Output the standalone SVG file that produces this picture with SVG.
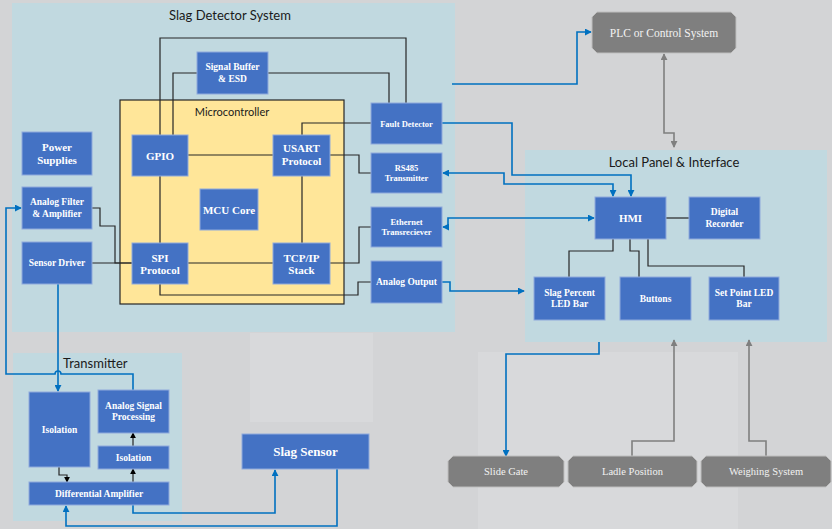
<svg xmlns="http://www.w3.org/2000/svg" width="832" height="529" viewBox="0 0 832 529">
<defs>
<style>
.bg{fill:#d3d4d6}
.faint{fill:#d8d9db}
.panel{fill:#c1d9e0}
.mcu{fill:#ffe699;stroke:#262626;stroke-width:1.2}
.node{fill:#4472c4;stroke:#8faadc;stroke-width:1}
.oct{fill:#7f7f7f;stroke:#bfbfbf;stroke-width:1}
.nt{font-family:"Liberation Serif","DejaVu Serif",serif;font-weight:bold;fill:#ffffff;text-anchor:middle;dominant-baseline:central;font-size:9.5px}
.nl{font-size:11px}
.ot{font-family:"Liberation Serif","DejaVu Serif",serif;fill:#f2f2f2;text-anchor:middle;dominant-baseline:central;font-size:10.5px}
.title{font-family:Lato,"Open Sans",sans-serif;fill:#1a1a1a;font-size:13px;dominant-baseline:central}
.blk{fill:none;stroke:#262626;stroke-width:1.2}
.blu{fill:none;stroke:#0070c0;stroke-width:1.6}
.gry{fill:none;stroke:#7f7f7f;stroke-width:1.6}
</style>
<marker id="ab" viewBox="0 0 8 8" refX="7" refY="4" markerWidth="7" markerHeight="7" markerUnits="userSpaceOnUse" orient="auto-start-reverse"><path d="M0,0 L8,4 L0,8 z" fill="#0070c0"/></marker>
<marker id="ak" viewBox="0 0 8 8" refX="7" refY="4" markerWidth="6" markerHeight="6" markerUnits="userSpaceOnUse" orient="auto-start-reverse"><path d="M0,0 L8,4 L0,8 z" fill="#000"/></marker>
<marker id="ag" viewBox="0 0 8 8" refX="7" refY="4" markerWidth="7" markerHeight="7" markerUnits="userSpaceOnUse" orient="auto-start-reverse"><path d="M0,0 L8,4 L0,8 z" fill="#7f7f7f"/></marker>
</defs>
<rect class="bg" x="0" y="0" width="832" height="529"/>
<rect class="faint" x="478" y="352" width="260" height="177"/>
<rect class="faint" x="250" y="333" width="123" height="89"/>

<g id="slag-detector-system">
<rect class="panel" x="12" y="3" width="443" height="329"/>
<text class="title" x="230" y="15" text-anchor="middle">Slag Detector System</text>
</g>
<g id="transmitter">
<rect class="panel" x="13" y="353" width="169" height="168"/>
<text class="title" x="63" y="363">Transmitter</text>
</g>
<g id="local-panel">
<rect class="panel" x="525" y="150" width="302" height="192"/>
<text class="title" x="674" y="162" text-anchor="middle">Local Panel &amp; Interface</text>
</g>
<g id="microcontroller">
<rect class="mcu" x="120" y="100" width="224" height="204"/>
<text class="title" x="232" y="111" text-anchor="middle" style="font-size:11px">Microcontroller</text>
</g>

<g id="connectors">
<path class="blk" d="M160,135 V38 H406 V103"/>
<path class="blk" d="M173,135 V73 H197"/>
<path class="blk" d="M268,73 H389 V103"/>
<path class="blk" d="M188,155 H273"/>
<path class="blk" d="M330,155 H359 V173 H371"/>
<path class="blk" d="M302,135 V123 H371"/>
<path class="blk" d="M160,176 V243"/>
<path class="blk" d="M302,176 V243"/>
<path class="blk" d="M188,263 H273"/>
<path class="blk" d="M330,263 H359 V227 H371"/>
<path class="blk" d="M160,284 V295 H358 V282 H371"/>
<path class="blk" d="M92,208 H100 V226 H115 V263 H132"/>
<path class="blk" d="M92,263 H132"/>
<path class="blk" d="M59,467 V475 H67 V482" marker-end="url(#ak)"/>
<path class="blk" d="M133,482 V469" marker-end="url(#ak)"/>
<path class="blk" d="M133,446 V433" marker-end="url(#ak)"/>
<path class="blk" d="M666,218 H689"/>
<path class="blk" d="M613,239 V251 H569 V277"/>
<path class="blk" d="M630,239 V251 H639 V277"/>
<path class="blk" d="M648,239 V266 H744 V277"/>
<path class="blu" d="M58,284 V391" marker-end="url(#ab)"/>
<path class="blu" d="M133,391 V374 H61 A3,3 0 0 0 55,374 H6 V208 H21" marker-end="url(#ab)"/>
<path class="blu" d="M133,505 V513 H275 V470" marker-end="url(#ab)"/>
<path class="blu" d="M337,469 V526 H66 V506" marker-end="url(#ab)"/>
<path class="blu" d="M452,84 H577 V32 H591" marker-end="url(#ab)"/>
<path class="blu" d="M442,123 H512 V175 H631 V196" marker-end="url(#ab)"/>
<path class="blu" d="M613,196 V184 H504 V173 H443" marker-start="url(#ab)" marker-end="url(#ab)"/>
<path class="blu" d="M594,218 H448 V227 H443" marker-start="url(#ab)" marker-end="url(#ab)"/>
<path class="blu" d="M442,282 H450 V291 H524" marker-end="url(#ab)"/>
<path class="blu" d="M599,342 V354 H506 V456" marker-end="url(#ab)"/>
<path class="gry" d="M664,54 V133 H674 V147" marker-start="url(#ag)" marker-end="url(#ag)"/>
<path class="gry" d="M632,456 V441 H674 V340" marker-end="url(#ag)"/>
<path class="gry" d="M766,456 V441 H749 V340" marker-end="url(#ag)"/>
</g>

<g id="signal-buffer"><rect class="node" x="197" y="52" width="71" height="42"/><text class="nt"><tspan x="232.5" y="67">Signal Buffer</tspan><tspan x="232.5" y="79">&amp; ESD</tspan></text></g>
<g id="gpio"><rect class="node" x="132" y="135" width="56" height="41"/><text class="nt nl" x="160" y="155.5">GPIO</text></g>
<g id="usart"><rect class="node" x="273" y="135" width="57" height="41"/><text class="nt nl"><tspan x="301.5" y="148">USART</tspan><tspan x="301.5" y="161">Protocol</tspan></text></g>
<g id="fault-detector"><rect class="node" x="371" y="103" width="71" height="41"/><text class="nt" x="406.5" y="123.5" style="font-size:8.5px">Fault Detector</text></g>
<g id="rs485"><rect class="node" x="371" y="153" width="71" height="40"/><text class="nt" style="font-size:8.5px"><tspan x="406.5" y="168">RS485</tspan><tspan x="406.5" y="178">Transmitter</tspan></text></g>
<g id="power-supplies"><rect class="node" x="22" y="132" width="70" height="43"/><text class="nt nl"><tspan x="57" y="146.5">Power</tspan><tspan x="57" y="159.5">Supplies</tspan></text></g>
<g id="analog-filter"><rect class="node" x="22" y="187" width="70" height="42"/><text class="nt"><tspan x="57" y="202">Analog Filter</tspan><tspan x="57" y="214">&amp; Amplifier</tspan></text></g>
<g id="sensor-driver"><rect class="node" x="22" y="242" width="70" height="42"/><text class="nt" x="57" y="263">Sensor Driver</text></g>
<g id="mcu-core"><rect class="node" x="200" y="189" width="58" height="41"/><text class="nt nl" x="229" y="209.5">MCU Core</text></g>
<g id="spi"><rect class="node" x="132" y="243" width="56" height="41"/><text class="nt nl"><tspan x="160" y="258">SPI</tspan><tspan x="160" y="269.5">Protocol</tspan></text></g>
<g id="tcpip"><rect class="node" x="273" y="243" width="57" height="41"/><text class="nt nl"><tspan x="301.5" y="258">TCP/IP</tspan><tspan x="301.5" y="269.5">Stack</tspan></text></g>
<g id="ethernet"><rect class="node" x="371" y="207" width="71" height="40"/><text class="nt" style="font-size:8.5px"><tspan x="406.5" y="222">Ethernet</tspan><tspan x="406.5" y="232">Transreciever</tspan></text></g>
<g id="analog-output"><rect class="node" x="371" y="261" width="71" height="42"/><text class="nt" x="406.5" y="282">Analog Output</text></g>
<g id="isolation-1"><rect class="node" x="29" y="392" width="61" height="75"/><text class="nt" x="59.5" y="430">Isolation</text></g>
<g id="analog-signal-processing"><rect class="node" x="98" y="390" width="71" height="43"/><text class="nt"><tspan x="133.5" y="406">Analog Signal</tspan><tspan x="133.5" y="417">Processing</tspan></text></g>
<g id="isolation-2"><rect class="node" x="98" y="446" width="71" height="23"/><text class="nt" x="133.5" y="457.5">Isolation</text></g>
<g id="differential-amplifier"><rect class="node" x="29" y="482" width="140" height="23"/><text class="nt" x="99" y="493.5">Differential Amplifier</text></g>
<g id="slag-sensor"><rect class="node" x="242" y="434" width="127" height="35"/><text class="nt" x="305.5" y="451.5" style="font-size:13px">Slag Sensor</text></g>
<g id="plc"><polygon class="oct" points="597,12 731,12 736,17 736,48 731,53 597,53 592,48 592,17"/><text class="ot" x="664" y="32.5" style="font-size:11.5px">PLC or Control System</text></g>
<g id="hmi"><rect class="node" x="595" y="197" width="71" height="42"/><text class="nt nl" x="630.5" y="218">HMI</text></g>
<g id="digital-recorder"><rect class="node" x="689" y="197" width="71" height="42"/><text class="nt"><tspan x="724.5" y="212">Digital</tspan><tspan x="724.5" y="224">Recorder</tspan></text></g>
<g id="slag-percent"><rect class="node" x="534" y="277" width="71" height="43"/><text class="nt"><tspan x="569.5" y="293">Slag Percent</tspan><tspan x="569.5" y="304">LED Bar</tspan></text></g>
<g id="buttons"><rect class="node" x="620" y="277" width="71" height="43"/><text class="nt" x="655.5" y="298.5">Buttons</text></g>
<g id="set-point"><rect class="node" x="709" y="277" width="70" height="43"/><text class="nt"><tspan x="744" y="293">Set Point LED</tspan><tspan x="744" y="304">Bar</tspan></text></g>
<g id="slide-gate"><polygon class="oct" points="453,456 559,456 564,461 564,482 559,487 453,487 448,482 448,461"/><text class="ot" x="506" y="471.5">Slide Gate</text></g>
<g id="ladle-position"><polygon class="oct" points="573,456 692,456 697,461 697,482 692,487 573,487 568,482 568,461"/><text class="ot" x="632.5" y="471.5">Ladle Position</text></g>
<g id="weighing-system"><polygon class="oct" points="706,456 826,456 831,461 831,482 826,487 706,487 701,482 701,461"/><text class="ot" x="766" y="471.5">Weighing System</text></g>
</svg>
